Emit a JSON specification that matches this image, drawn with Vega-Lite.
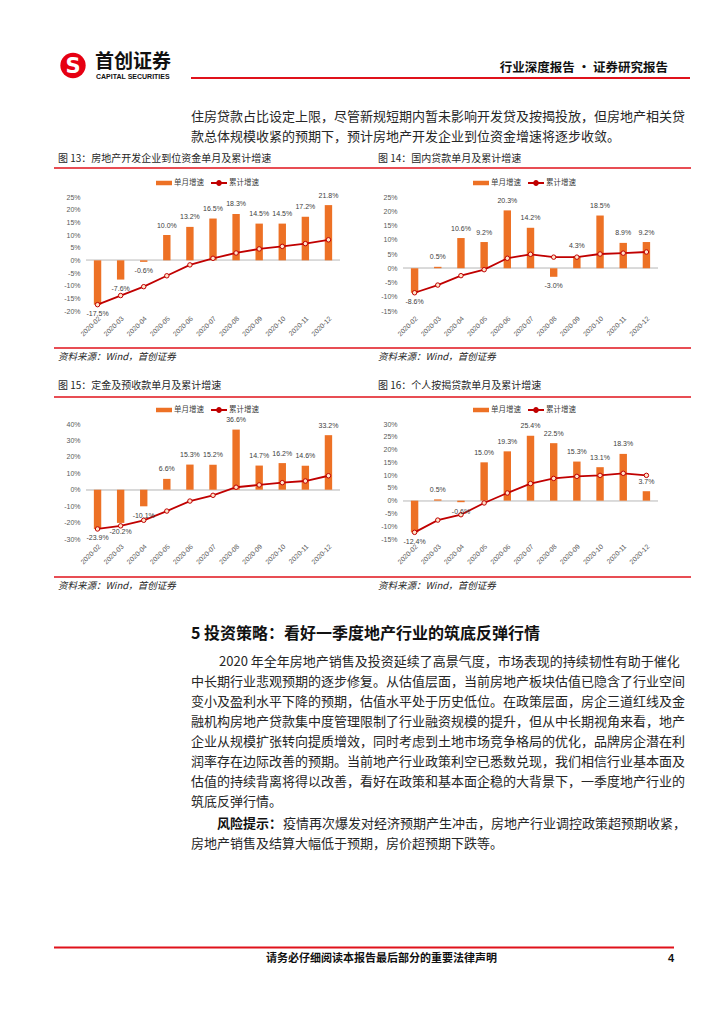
{
  "$schema": "https://vega.github.io/schema/vega-lite/v6.json",
  "padding": 0,
  "background": "white",
  "columns": 2,
  "spacing": {"row": 113, "column": 63},
  "bounds": "flush",
  "resolve": {"scale": {"color": "independent", "stroke": "independent"}},
  "datasets": {
    "c13": [
      {"m": "2020-02", "s": -0.175, "c": -0.175},
      {"m": "2020-03", "s": -0.076, "c": -0.139},
      {"m": "2020-04", "s": -0.006, "c": -0.104},
      {"m": "2020-05", "s": 0.100, "c": -0.061},
      {"m": "2020-06", "s": 0.132, "c": -0.018},
      {"m": "2020-07", "s": 0.165, "c": 0.008},
      {"m": "2020-08", "s": 0.183, "c": 0.029},
      {"m": "2020-09", "s": 0.145, "c": 0.045},
      {"m": "2020-10", "s": 0.145, "c": 0.055},
      {"m": "2020-11", "s": 0.172, "c": 0.066},
      {"m": "2020-12", "s": 0.218, "c": 0.081}
    ],
    "c14": [
      {"m": "2020-02", "s": -0.086, "c": -0.086},
      {"m": "2020-03", "s": 0.005, "c": -0.059},
      {"m": "2020-04", "s": 0.106, "c": -0.026},
      {"m": "2020-05", "s": 0.092, "c": -0.005},
      {"m": "2020-06", "s": 0.203, "c": 0.035},
      {"m": "2020-07", "s": 0.142, "c": 0.049},
      {"m": "2020-08", "s": -0.030, "c": 0.039},
      {"m": "2020-09", "s": 0.043, "c": 0.039},
      {"m": "2020-10", "s": 0.185, "c": 0.050},
      {"m": "2020-11", "s": 0.089, "c": 0.053},
      {"m": "2020-12", "s": 0.092, "c": 0.057}
    ],
    "c15": [
      {"m": "2020-02", "s": -0.239, "c": -0.239},
      {"m": "2020-03", "s": -0.202, "c": -0.220},
      {"m": "2020-04", "s": -0.101, "c": -0.186},
      {"m": "2020-05", "s": 0.066, "c": -0.130},
      {"m": "2020-06", "s": 0.153, "c": -0.069},
      {"m": "2020-07", "s": 0.152, "c": -0.034},
      {"m": "2020-08", "s": 0.366, "c": 0.015},
      {"m": "2020-09", "s": 0.147, "c": 0.029},
      {"m": "2020-10", "s": 0.162, "c": 0.043},
      {"m": "2020-11", "s": 0.146, "c": 0.053},
      {"m": "2020-12", "s": 0.332, "c": 0.085}
    ],
    "c16": [
      {"m": "2020-02", "s": -0.124, "c": -0.124},
      {"m": "2020-03", "s": 0.005, "c": -0.076},
      {"m": "2020-04", "s": -0.006, "c": -0.055},
      {"m": "2020-05", "s": 0.150, "c": -0.009},
      {"m": "2020-06", "s": 0.193, "c": 0.030},
      {"m": "2020-07", "s": 0.254, "c": 0.067},
      {"m": "2020-08", "s": 0.225, "c": 0.087},
      {"m": "2020-09", "s": 0.153, "c": 0.095},
      {"m": "2020-10", "s": 0.131, "c": 0.099},
      {"m": "2020-11", "s": 0.183, "c": 0.107},
      {"m": "2020-12", "s": 0.037, "c": 0.099}
    ]
  },
  "concat": [
    {
      "width": 254, "height": 114,
      "data": {"name": "c13"},
      "layer": [
        {"data": {"values": [{"t": "corner"}]}, "mark": {"type": "rule", "color": "white", "strokeWidth": 0.5}, "encoding": {"x": {"value": -85}, "y": {"value": -196}, "x2": {"value": -84.5}, "y2": {"value": -195.5}}},
        {"data": {"values": [{"t": "corner"}]}, "mark": {"type": "rule", "color": "white", "strokeWidth": 0.5}, "encoding": {"x": {"value": 638.5}, "y": {"value": 827.5}, "x2": {"value": 639}, "y2": {"value": 828}}},
        {"mark": {"type": "rule", "color": "#D9D9D9", "strokeWidth": 1}, "encoding": {"y": {"datum": 0, "type": "quantitative"}}},
        {"mark": {"type": "bar", "color": "#ED7125"}, "encoding": {
          "x": {"field": "m", "type": "ordinal", "sort": null, "title": null, "scale": {"type": "band", "paddingInner": 0.68, "paddingOuter": 0.34}, "axis": {"labelOverlap": false}},
          "y": {"field": "s", "type": "quantitative", "title": null, "scale": {"domain": [-0.2, 0.25], "nice": false, "zero": false}, "axis": {"values": [-0.2, -0.15, -0.1, -0.05, 0, 0.05, 0.1, 0.15, 0.2, 0.25], "tickCount": 20, "format": ".0%", "labelOverlap": false}},
          "color": {"datum": "单月增速", "scale": {"range": ["#ED7125"]}, "legend": {"orient": "none", "legendX": 72, "legendY": -20, "symbolType": "M-1.6,-0.45H1.6V0.45H-1.6Z", "symbolSize": 100}}}},
        {"mark": {"type": "line", "strokeWidth": 1.8}, "encoding": {
          "x": {"field": "m", "type": "ordinal", "sort": null, "title": null},
          "y": {"field": "c", "type": "quantitative", "title": null},
          "stroke": {"datum": "累计增速", "scale": {"range": ["#C00000"]}, "legend": {"orient": "none", "legendX": 127, "legendY": -20, "symbolType": "M-1.6,0H1.6M-0.4,0A0.4,0.4,0,1,1,0.4,0A0.4,0.4,0,1,1,-0.4,0", "symbolSize": 100, "symbolFillColor": "#FFE5CC", "symbolStrokeWidth": 1.8}}}},
        {"mark": {"type": "point", "filled": true, "fill": "#FFE5CC", "stroke": "#C00000", "strokeWidth": 1, "size": 20, "opacity": 1}, "encoding": {
          "x": {"field": "m", "type": "ordinal", "sort": null, "title": null},
          "y": {"field": "c", "type": "quantitative", "title": null}}},
        {"transform": [{"filter": "datum.s >= 0"}], "mark": {"type": "text", "dy": -9.5, "fontSize": 7, "font": "Liberation Sans", "color": "#404040"}, "encoding": {
          "x": {"field": "m", "type": "ordinal", "sort": null, "title": null},
          "y": {"field": "s", "type": "quantitative", "title": null},
          "text": {"field": "s", "type": "quantitative", "format": ".1%"}}},
        {"transform": [{"filter": "datum.s < 0"}], "mark": {"type": "text", "dy": 9.5, "fontSize": 7, "font": "Liberation Sans", "color": "#404040"}, "encoding": {
          "x": {"field": "m", "type": "ordinal", "sort": null, "title": null},
          "y": {"field": "s", "type": "quantitative", "title": null},
          "text": {"field": "s", "type": "quantitative", "format": ".1%"}}},

        {"data": {"values": [{"t": "logo"}]}, "mark": {"type": "point", "shape": "circle", "filled": true, "color": "#E60012", "size": 640, "opacity": 1}, "encoding": {"x": {"value": -13}, "y": {"value": -131.5}}},
        {"data": {"values": [{"t": "S"}]}, "mark": {"type": "text", "font": "DejaVu Sans", "fontWeight": "bold", "fontSize": 21, "color": "white", "align": "center", "baseline": "middle"}, "encoding": {"x": {"value": -13}, "y": {"value": -130.5}, "text": {"field": "t"}}},
        {"data": {"values": [{"t": "首创证券"}]}, "mark": {"type": "text", "font": "Noto Sans CJK SC", "fontWeight": "bold", "fontSize": 19, "color": "#111111", "align": "left", "baseline": "middle"}, "encoding": {"x": {"value": 9}, "y": {"value": -135}, "text": {"field": "t"}}},
        {"data": {"values": [{"t": "CAPITAL SECURITIES"}]}, "mark": {"type": "text", "font": "Liberation Sans", "fontWeight": "bold", "fontSize": 7, "color": "#111111", "align": "left", "baseline": "middle"}, "encoding": {"x": {"value": 10}, "y": {"value": -120}, "text": {"field": "t"}}},
        {"data": {"values": [{"t": "行业深度报告 · 证券研究报告"}]}, "mark": {"type": "text", "font": "Noto Sans CJK SC", "fontWeight": "bold", "fontSize": 12.5, "color": "#111111", "align": "right", "baseline": "middle"}, "encoding": {"x": {"value": 582}, "y": {"value": -129}, "text": {"field": "t"}}},
        {"data": {"values": [{"t": "rule"}]}, "mark": {"type": "rule", "color": "#E0121B", "strokeWidth": 2}, "encoding": {"x": {"value": 105}, "x2": {"value": 604}, "y": {"value": -119}}},
        {"data": {"values": [{"t": ["住房贷款占比设定上限，尽管新规短期内暂未影响开发贷及按揭投放，但房地产相关贷", "款总体规模收紧的预期下，预计房地产开发企业到位资金增速将逐步收敛。"]}]}, "mark": {"type": "text", "font": "Noto Sans CJK SC", "fontSize": 13, "lineHeight": 20, "color": "#262626", "align": "left", "baseline": "alphabetic"}, "encoding": {"x": {"value": 105}, "y": {"value": -76.5}, "text": {"field": "t"}}},
        {"data": {"values": [{"t": "图 13：房地产开发企业到位资金单月及累计增速"}]}, "mark": {"type": "text", "font": "Noto Sans CJK SC", "fontSize": 10, "color": "#262626", "align": "left", "baseline": "middle"}, "encoding": {"x": {"value": -28}, "y": {"value": -38}, "text": {"field": "t"}}},
        {"data": {"values": [{"t": "图 14：国内贷款单月及累计增速"}]}, "mark": {"type": "text", "font": "Noto Sans CJK SC", "fontSize": 10, "color": "#262626", "align": "left", "baseline": "middle"}, "encoding": {"x": {"value": 292}, "y": {"value": -38}, "text": {"field": "t"}}},
        {"data": {"values": [{"t": "rule"}]}, "mark": {"type": "rule", "color": "#E0121B", "strokeWidth": 1.5}, "encoding": {"x": {"value": -32}, "x2": {"value": 605}, "y": {"value": -29}}},

        {"data": {"values": [{"t": "rule"}]}, "mark": {"type": "rule", "color": "#E0121B", "strokeWidth": 1.5}, "encoding": {"x": {"value": -32}, "x2": {"value": 605}, "y": {"value": 151}}},
        {"data": {"values": [{"t": "资料来源：Wind，首创证券"}]}, "mark": {"type": "text", "font": "Noto Sans CJK SC", "fontStyle": "italic", "fontSize": 9.5, "color": "#262626", "align": "left", "baseline": "middle"}, "encoding": {"x": {"value": -28}, "y": {"value": 160}, "text": {"field": "t"}}},
        {"data": {"values": [{"t": "资料来源：Wind，首创证券"}]}, "mark": {"type": "text", "font": "Noto Sans CJK SC", "fontStyle": "italic", "fontSize": 9.5, "color": "#262626", "align": "left", "baseline": "middle"}, "encoding": {"x": {"value": 292}, "y": {"value": 160}, "text": {"field": "t"}}},
        {"data": {"values": [{"t": "图 15：定金及预收款单月及累计增速"}]}, "mark": {"type": "text", "font": "Noto Sans CJK SC", "fontSize": 10, "color": "#262626", "align": "left", "baseline": "middle"}, "encoding": {"x": {"value": -28}, "y": {"value": 189}, "text": {"field": "t"}}},
        {"data": {"values": [{"t": "图 16：个人按揭贷款单月及累计增速"}]}, "mark": {"type": "text", "font": "Noto Sans CJK SC", "fontSize": 10, "color": "#262626", "align": "left", "baseline": "middle"}, "encoding": {"x": {"value": 292}, "y": {"value": 189}, "text": {"field": "t"}}},
        {"data": {"values": [{"t": "rule"}]}, "mark": {"type": "rule", "color": "#E0121B", "strokeWidth": 1.5}, "encoding": {"x": {"value": -32}, "x2": {"value": 605}, "y": {"value": 200}}},

        {"data": {"values": [{"t": "rule"}]}, "mark": {"type": "rule", "color": "#E0121B", "strokeWidth": 1.5}, "encoding": {"x": {"value": -32}, "x2": {"value": 605}, "y": {"value": 380}}},
        {"data": {"values": [{"t": "资料来源：Wind，首创证券"}]}, "mark": {"type": "text", "font": "Noto Sans CJK SC", "fontStyle": "italic", "fontSize": 9.5, "color": "#262626", "align": "left", "baseline": "middle"}, "encoding": {"x": {"value": -28}, "y": {"value": 389}, "text": {"field": "t"}}},
        {"data": {"values": [{"t": "资料来源：Wind，首创证券"}]}, "mark": {"type": "text", "font": "Noto Sans CJK SC", "fontStyle": "italic", "fontSize": 9.5, "color": "#262626", "align": "left", "baseline": "middle"}, "encoding": {"x": {"value": 292}, "y": {"value": 389}, "text": {"field": "t"}}},
        {"data": {"values": [{"t": "5 投资策略：看好一季度地产行业的筑底反弹行情"}]}, "mark": {"type": "text", "font": "Noto Sans CJK SC", "fontWeight": "bold", "fontSize": 16, "color": "#111111", "align": "left", "baseline": "middle"}, "encoding": {"x": {"value": 105}, "y": {"value": 437}, "text": {"field": "t"}}},
        {"data": {"values": [{"t": "2020 年全年房地产销售及投资延续了高景气度，市场表现的持续韧性有助于催化"}]}, "mark": {"type": "text", "font": "Noto Sans CJK SC", "fontSize": 13, "color": "#262626", "align": "left", "baseline": "alphabetic"}, "encoding": {"x": {"value": 133}, "y": {"value": 468.5}, "text": {"field": "t"}}},
        {"data": {"values": [{"t": [
          "中长期行业悲观预期的逐步修复。从估值层面，当前房地产板块估值已隐含了行业空间",
          "变小及盈利水平下降的预期，估值水平处于历史低位。在政策层面，房企三道红线及金",
          "融机构房地产贷款集中度管理限制了行业融资规模的提升，但从中长期视角来看，地产",
          "企业从规模扩张转向提质增效，同时考虑到土地市场竞争格局的优化，品牌房企潜在利",
          "润率存在边际改善的预期。当前地产行业政策利空已悉数兑现，我们相信行业基本面及",
          "估值的持续背离将得以改善，看好在政策和基本面企稳的大背景下，一季度地产行业的",
          "筑底反弹行情。"
        ]}]}, "mark": {"type": "text", "font": "Noto Sans CJK SC", "fontSize": 13, "lineHeight": 20, "color": "#262626", "align": "left", "baseline": "alphabetic"}, "encoding": {"x": {"value": 105}, "y": {"value": 488.5}, "text": {"field": "t"}}},
        {"data": {"values": [{"t": "风险提示："}]}, "mark": {"type": "text", "font": "Noto Sans CJK SC", "fontWeight": "bold", "fontSize": 13, "color": "#111111", "align": "left", "baseline": "middle"}, "encoding": {"x": {"value": 131}, "y": {"value": 627}, "text": {"field": "t"}}},
        {"data": {"values": [{"t": "疫情再次爆发对经济预期产生冲击，房地产行业调控政策超预期收紧，"}]}, "mark": {"type": "text", "font": "Noto Sans CJK SC", "fontSize": 13, "color": "#262626", "align": "left", "baseline": "middle"}, "encoding": {"x": {"value": 197}, "y": {"value": 627}, "text": {"field": "t"}}},
        {"data": {"values": [{"t": "房地产销售及结算大幅低于预期，房价超预期下跌等。"}]}, "mark": {"type": "text", "font": "Noto Sans CJK SC", "fontSize": 13, "color": "#262626", "align": "left", "baseline": "middle"}, "encoding": {"x": {"value": 105}, "y": {"value": 647}, "text": {"field": "t"}}},
        {"data": {"values": [{"t": "rule"}]}, "mark": {"type": "rule", "color": "#E0121B", "strokeWidth": 2}, "encoding": {"x": {"value": -32}, "x2": {"value": 588}, "y": {"value": 750.5}}},
        {"data": {"values": [{"t": "请务必仔细阅读本报告最后部分的重要法律声明"}]}, "mark": {"type": "text", "font": "Noto Sans CJK SC", "fontWeight": "bold", "fontSize": 11, "color": "#111111", "align": "left", "baseline": "middle"}, "encoding": {"x": {"value": 180}, "y": {"value": 761.5}, "text": {"field": "t"}}},
        {"data": {"values": [{"t": "4"}]}, "mark": {"type": "text", "font": "Liberation Sans", "fontWeight": "bold", "fontSize": 11, "color": "#111111", "align": "center", "baseline": "middle"}, "encoding": {"x": {"value": 585}, "y": {"value": 761.5}, "text": {"field": "t"}}}
      ]
    },
    {
      "width": 255, "height": 114,
      "data": {"name": "c14"},
      "layer": [
        {"mark": {"type": "rule", "color": "#D9D9D9", "strokeWidth": 1}, "encoding": {"y": {"datum": 0, "type": "quantitative"}}},
        {"mark": {"type": "bar", "color": "#ED7125"}, "encoding": {
          "x": {"field": "m", "type": "ordinal", "sort": null, "title": null, "scale": {"type": "band", "paddingInner": 0.68, "paddingOuter": 0.34}, "axis": {"labelOverlap": false}},
          "y": {"field": "s", "type": "quantitative", "title": null, "scale": {"domain": [-0.15, 0.25], "nice": false, "zero": false}, "axis": {"values": [-0.15, -0.1, -0.05, 0, 0.05, 0.1, 0.15, 0.2, 0.25], "tickCount": 20, "format": ".0%", "labelOverlap": false}},
          "color": {"datum": "单月增速", "scale": {"range": ["#ED7125"]}, "legend": {"orient": "none", "legendX": 72, "legendY": -20, "symbolType": "M-1.6,-0.45H1.6V0.45H-1.6Z", "symbolSize": 100}}}},
        {"mark": {"type": "line", "strokeWidth": 1.8}, "encoding": {
          "x": {"field": "m", "type": "ordinal", "sort": null, "title": null},
          "y": {"field": "c", "type": "quantitative", "title": null},
          "stroke": {"datum": "累计增速", "scale": {"range": ["#C00000"]}, "legend": {"orient": "none", "legendX": 127, "legendY": -20, "symbolType": "M-1.6,0H1.6M-0.4,0A0.4,0.4,0,1,1,0.4,0A0.4,0.4,0,1,1,-0.4,0", "symbolSize": 100, "symbolFillColor": "#FFE5CC", "symbolStrokeWidth": 1.8}}}},
        {"mark": {"type": "point", "filled": true, "fill": "#FFE5CC", "stroke": "#C00000", "strokeWidth": 1, "size": 20, "opacity": 1}, "encoding": {
          "x": {"field": "m", "type": "ordinal", "sort": null, "title": null},
          "y": {"field": "c", "type": "quantitative", "title": null}}},
        {"transform": [{"filter": "datum.s >= 0"}], "mark": {"type": "text", "dy": -9.5, "fontSize": 7, "font": "Liberation Sans", "color": "#404040"}, "encoding": {
          "x": {"field": "m", "type": "ordinal", "sort": null, "title": null},
          "y": {"field": "s", "type": "quantitative", "title": null},
          "text": {"field": "s", "type": "quantitative", "format": ".1%"}}},
        {"transform": [{"filter": "datum.s < 0"}], "mark": {"type": "text", "dy": 9.5, "fontSize": 7, "font": "Liberation Sans", "color": "#404040"}, "encoding": {
          "x": {"field": "m", "type": "ordinal", "sort": null, "title": null},
          "y": {"field": "s", "type": "quantitative", "title": null},
          "text": {"field": "s", "type": "quantitative", "format": ".1%"}}}
      ]
    },
    {
      "width": 254, "height": 115,
      "data": {"name": "c15"},
      "layer": [
        {"mark": {"type": "rule", "color": "#D9D9D9", "strokeWidth": 1}, "encoding": {"y": {"datum": 0, "type": "quantitative"}}},
        {"mark": {"type": "bar", "color": "#ED7125"}, "encoding": {
          "x": {"field": "m", "type": "ordinal", "sort": null, "title": null, "scale": {"type": "band", "paddingInner": 0.68, "paddingOuter": 0.34}, "axis": {"labelOverlap": false}},
          "y": {"field": "s", "type": "quantitative", "title": null, "scale": {"domain": [-0.3, 0.4], "nice": false, "zero": false}, "axis": {"values": [-0.3, -0.2, -0.1, 0, 0.1, 0.2, 0.3, 0.4], "tickCount": 20, "format": ".0%", "labelOverlap": false}},
          "color": {"datum": "单月增速", "scale": {"range": ["#ED7125"]}, "legend": {"orient": "none", "legendX": 72, "legendY": -20, "symbolType": "M-1.6,-0.45H1.6V0.45H-1.6Z", "symbolSize": 100}}}},
        {"mark": {"type": "line", "strokeWidth": 1.8}, "encoding": {
          "x": {"field": "m", "type": "ordinal", "sort": null, "title": null},
          "y": {"field": "c", "type": "quantitative", "title": null},
          "stroke": {"datum": "累计增速", "scale": {"range": ["#C00000"]}, "legend": {"orient": "none", "legendX": 127, "legendY": -20, "symbolType": "M-1.6,0H1.6M-0.4,0A0.4,0.4,0,1,1,0.4,0A0.4,0.4,0,1,1,-0.4,0", "symbolSize": 100, "symbolFillColor": "#FFE5CC", "symbolStrokeWidth": 1.8}}}},
        {"mark": {"type": "point", "filled": true, "fill": "#FFE5CC", "stroke": "#C00000", "strokeWidth": 1, "size": 20, "opacity": 1}, "encoding": {
          "x": {"field": "m", "type": "ordinal", "sort": null, "title": null},
          "y": {"field": "c", "type": "quantitative", "title": null}}},
        {"transform": [{"filter": "datum.s >= 0"}], "mark": {"type": "text", "dy": -9.5, "fontSize": 7, "font": "Liberation Sans", "color": "#404040"}, "encoding": {
          "x": {"field": "m", "type": "ordinal", "sort": null, "title": null},
          "y": {"field": "s", "type": "quantitative", "title": null},
          "text": {"field": "s", "type": "quantitative", "format": ".1%"}}},
        {"transform": [{"filter": "datum.s < 0"}], "mark": {"type": "text", "dy": 9.5, "fontSize": 7, "font": "Liberation Sans", "color": "#404040"}, "encoding": {
          "x": {"field": "m", "type": "ordinal", "sort": null, "title": null},
          "y": {"field": "s", "type": "quantitative", "title": null},
          "text": {"field": "s", "type": "quantitative", "format": ".1%"}}}
      ]
    },
    {
      "width": 255, "height": 115,
      "data": {"name": "c16"},
      "layer": [
        {"mark": {"type": "rule", "color": "#D9D9D9", "strokeWidth": 1}, "encoding": {"y": {"datum": 0, "type": "quantitative"}}},
        {"mark": {"type": "bar", "color": "#ED7125"}, "encoding": {
          "x": {"field": "m", "type": "ordinal", "sort": null, "title": null, "scale": {"type": "band", "paddingInner": 0.68, "paddingOuter": 0.34}, "axis": {"labelOverlap": false}},
          "y": {"field": "s", "type": "quantitative", "title": null, "scale": {"domain": [-0.15, 0.3], "nice": false, "zero": false}, "axis": {"values": [-0.15, -0.1, -0.05, 0, 0.05, 0.1, 0.15, 0.2, 0.25, 0.3], "tickCount": 20, "format": ".0%", "labelOverlap": false}},
          "color": {"datum": "单月增速", "scale": {"range": ["#ED7125"]}, "legend": {"orient": "none", "legendX": 72, "legendY": -20, "symbolType": "M-1.6,-0.45H1.6V0.45H-1.6Z", "symbolSize": 100}}}},
        {"mark": {"type": "line", "strokeWidth": 1.8}, "encoding": {
          "x": {"field": "m", "type": "ordinal", "sort": null, "title": null},
          "y": {"field": "c", "type": "quantitative", "title": null},
          "stroke": {"datum": "累计增速", "scale": {"range": ["#C00000"]}, "legend": {"orient": "none", "legendX": 127, "legendY": -20, "symbolType": "M-1.6,0H1.6M-0.4,0A0.4,0.4,0,1,1,0.4,0A0.4,0.4,0,1,1,-0.4,0", "symbolSize": 100, "symbolFillColor": "#FFE5CC", "symbolStrokeWidth": 1.8}}}},
        {"mark": {"type": "point", "filled": true, "fill": "#FFE5CC", "stroke": "#C00000", "strokeWidth": 1, "size": 20, "opacity": 1}, "encoding": {
          "x": {"field": "m", "type": "ordinal", "sort": null, "title": null},
          "y": {"field": "c", "type": "quantitative", "title": null}}},
        {"transform": [{"filter": "datum.s >= 0"}], "mark": {"type": "text", "dy": -9.5, "fontSize": 7, "font": "Liberation Sans", "color": "#404040"}, "encoding": {
          "x": {"field": "m", "type": "ordinal", "sort": null, "title": null},
          "y": {"field": "s", "type": "quantitative", "title": null},
          "text": {"field": "s", "type": "quantitative", "format": ".1%"}}},
        {"transform": [{"filter": "datum.s < 0"}], "mark": {"type": "text", "dy": 9.5, "fontSize": 7, "font": "Liberation Sans", "color": "#404040"}, "encoding": {
          "x": {"field": "m", "type": "ordinal", "sort": null, "title": null},
          "y": {"field": "s", "type": "quantitative", "title": null},
          "text": {"field": "s", "type": "quantitative", "format": ".1%"}}}
      ]
    }
  ],
  "config": {
    "view": {"stroke": null},
    "locale": {"number": {"decimal": ".", "thousands": ",", "grouping": [3], "currency": ["", ""], "minus": "-"}},
    "axis": {"grid": false, "domain": false, "ticks": false, "labelFont": "Liberation Sans", "labelFontSize": 7, "labelColor": "#595959", "labelOverlap": false, "labelBound": false},
    "axisX": {"labelAngle": -45, "labelPadding": 4, "labelFontSize": 6.8},
    "axisY": {"labelPadding": 6, "labelFlush": false},
    "legend": {"title": null, "labelFont": "Noto Sans CJK SC", "labelFontSize": 7.5, "labelColor": "#404040", "padding": 0, "direction": "horizontal"}
  }
}
